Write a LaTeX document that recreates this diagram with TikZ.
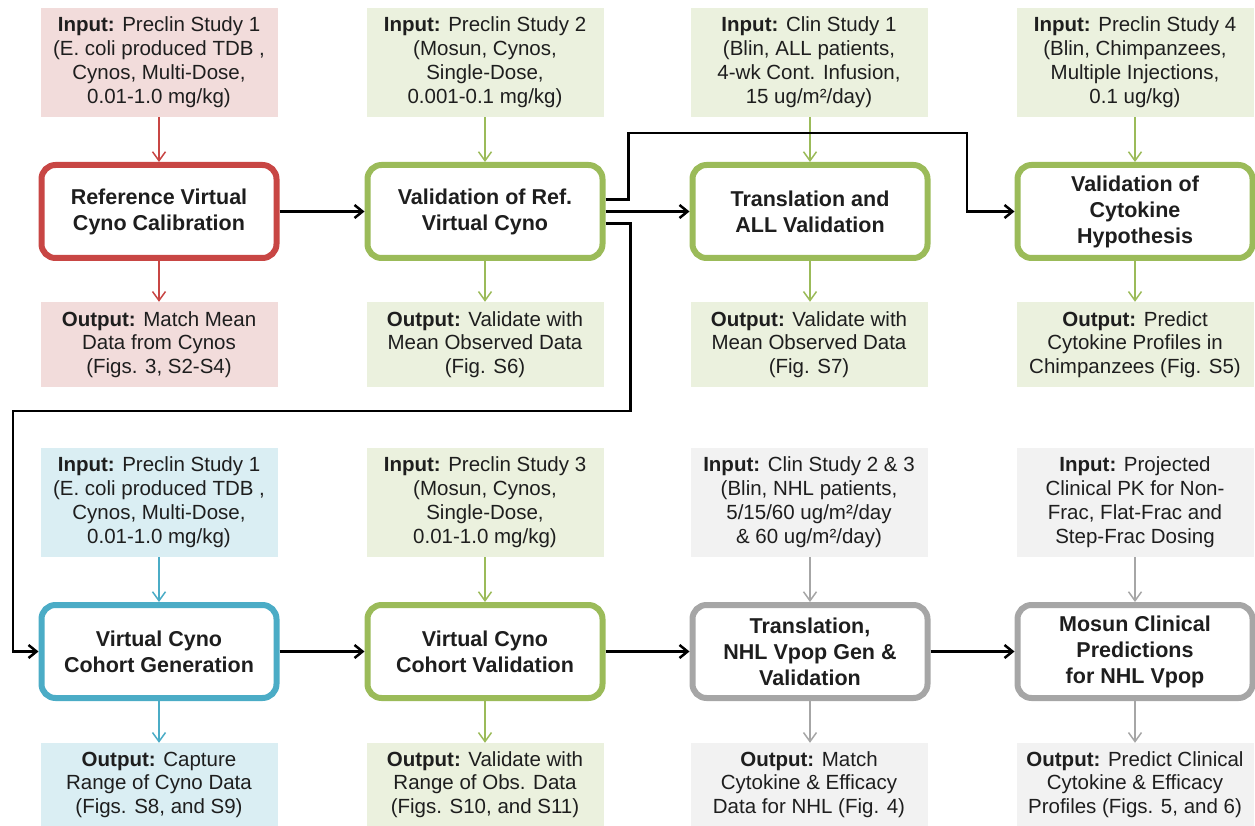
\documentclass[tikz,border=0pt]{standalone}
\usepackage{fontspec}
\setmainfont{Liberation Sans}
\usetikzlibrary{arrows.meta}
\definecolor{redS}{RGB}{200,70,68}
\definecolor{redF}{RGB}{242,220,219}
\definecolor{grnS}{RGB}{155,187,89}
\definecolor{grnF}{RGB}{235,241,222}
\definecolor{bluS}{RGB}{75,172,198}
\definecolor{bluF}{RGB}{218,238,243}
\definecolor{gryS}{RGB}{166,166,166}
\definecolor{gryF}{RGB}{242,242,242}
\definecolor{txt}{RGB}{30,30,30}
\begin{document}
\begin{tikzpicture}[x=1pt,y=-1pt,
  inbox/.style={fill=#1, minimum width=237pt, minimum height=109pt, inner sep=0pt, align=center, text=txt, font=\fontsize{20.5}{24}\selectfont},
  outbox/.style={fill=#1, minimum width=237pt, minimum height=85pt, inner sep=0pt, align=center, text=txt, font=\fontsize{20.5}{23.5}\selectfont},
  proc/.style={draw=#1, fill=white, line width=6pt, rounded corners=14pt, minimum width=235pt, minimum height=93pt, inner sep=0pt, outer sep=3pt, align=center, text=txt, font=\bfseries\fontsize{21.5}{26}\selectfont},
  flow/.style={draw=#1, line width=1.5pt, -{Straight Barb[length=9pt,width=13pt,line width=1.5pt]}},
  conn/.style={draw=black, line width=2.5pt, -{Straight Barb[length=8pt,width=13pt,line width=2.5pt]}}
]
\useasboundingbox (0,0) rectangle (1255,826);

% ---------- Row 1 ----------
\node[inbox=redF] (i1) at (159,62.5) {\textbf{Input:} Preclin Study 1\\(E. coli produced TDB ,\\Cynos, Multi-Dose,\\0.01-1.0 mg/kg)};
\node[inbox=grnF] (i2) at (485,62.5) {\textbf{Input:} Preclin Study 2\\(Mosun, Cynos,\\Single-Dose,\\0.001-0.1 mg/kg)};
\node[inbox=grnF] (i3) at (809,62.5) {\textbf{Input:} Clin Study 1\\(Blin, ALL patients,\\4-wk Cont. Infusion,\\15 ug/m²/day)};
\node[inbox=grnF] (i4) at (1135,62.5) {\textbf{Input:} Preclin Study 4\\(Blin, Chimpanzees,\\Multiple Injections,\\0.1 ug/kg)};

\node[proc=redS] (p1) at (159,211.5) {Reference Virtual\\Cyno Calibration};
\node[proc=grnS] (p2) at (485,211.5) {Validation of Ref.\\Virtual Cyno};
\node[proc=grnS] (p3) at (810,211.5) {Translation and\\ALL Validation};
\node[proc=grnS] (p4) at (1135,211.5) {Validation of\\Cytokine\\Hypothesis};

\node[outbox=redF] (o1) at (159,344.5) {\textbf{Output:} Match Mean\\Data from Cynos\\(Figs. 3, S2-S4)};
\node[outbox=grnF] (o2) at (485,344.5) {\textbf{Output:} Validate with\\Mean Observed Data\\(Fig. S6)};
\node[outbox=grnF] (o3) at (809,344.5) {\textbf{Output:} Validate with\\Mean Observed Data\\(Fig. S7)};
\node[outbox=grnF] (o4) at (1135,344.5) {\textbf{Output:} Predict\\Cytokine Profiles in\\Chimpanzees (Fig. S5)};

% ---------- Row 2 ----------
\node[inbox=bluF] (j1) at (159,502.5) {\textbf{Input:} Preclin Study 1\\(E. coli produced TDB ,\\Cynos, Multi-Dose,\\0.01-1.0 mg/kg)};
\node[inbox=grnF] (j2) at (485,502.5) {\textbf{Input:} Preclin Study 3\\(Mosun, Cynos,\\Single-Dose,\\0.01-1.0 mg/kg)};
\node[inbox=gryF] (j3) at (809,502.5) {\textbf{Input:} Clin Study 2 \& 3\\(Blin, NHL patients,\\5/15/60 ug/m²/day\\\& 60 ug/m²/day)};
\node[inbox=gryF] (j4) at (1135,502.5) {\textbf{Input:} Projected\\Clinical PK for Non-\\Frac, Flat-Frac and\\Step-Frac Dosing};

\node[proc=bluS] (q1) at (159,651.5) {Virtual Cyno\\Cohort Generation};
\node[proc=grnS] (q2) at (485,651.5) {Virtual Cyno\\Cohort Validation};
\node[proc=gryS] (q3) at (810,651.5) {Translation,\\NHL Vpop Gen \&\\Validation};
\node[proc=gryS] (q4) at (1135,651.5) {Mosun Clinical\\Predictions\\for NHL Vpop};

\node[outbox=bluF, minimum height=83pt] (u1) at (159,784.5) {\textbf{Output:} Capture\\Range of Cyno Data\\(Figs. S8, and S9)};
\node[outbox=grnF, minimum height=83pt] (u2) at (485,784.5) {\textbf{Output:} Validate with\\Range of Obs. Data\\(Figs. S10, and S11)};
\node[outbox=gryF, minimum height=83pt] (u3) at (809,784.5) {\textbf{Output:} Match\\Cytokine \& Efficacy\\Data for NHL (Fig. 4)};
\node[outbox=gryF, minimum height=83pt] (u4) at (1135,784.5) {\textbf{Output:} Predict Clinical\\Cytokine \& Efficacy\\Profiles (Figs. 5, and 6)};

% ---------- coloured flows ----------
\draw[flow=redS] (i1) -- (p1);
\draw[flow=redS] (p1) -- (o1);
\draw[flow=grnS] (i2) -- (p2);
\draw[flow=grnS] (p2) -- (o2);
\draw[flow=grnS] (i3.south -| p3.north) -- (p3.north);
\draw[flow=grnS] (p3.south) -- (p3.south |- o3.north);
\draw[flow=grnS] (i4) -- (p4);
\draw[flow=grnS] (p4) -- (o4);
\draw[flow=bluS] (j1) -- (q1);
\draw[flow=bluS] (q1) -- (u1);
\draw[flow=grnS] (j2) -- (q2);
\draw[flow=grnS] (q2) -- (u2);
\draw[flow=gryS] (j3.south -| q3.north) -- (q3.north);
\draw[flow=gryS] (q3.south) -- (q3.south |- u3.north);
\draw[flow=gryS] (j4) -- (q4);
\draw[flow=gryS] (q4) -- (u4);

% ---------- black connectors ----------
\coordinate (top) at (967,133);
\coordinate (low) at (13,411);
\draw[conn] (p1) -- (p2);
\draw[conn] (p2) -- (p3);
\draw[conn] ([yshift=12pt]p2.east) -- ++(23,0) |- (top) |- (p4.west);
\draw[conn] ([yshift=-12pt]p2.east) -- ++(25,0) |- (low) |- (q1.west);
\draw[conn] (q1) -- (q2);
\draw[conn] (q2) -- (q3);
\draw[conn] (q3) -- (q4);
\end{tikzpicture}
\end{document}
